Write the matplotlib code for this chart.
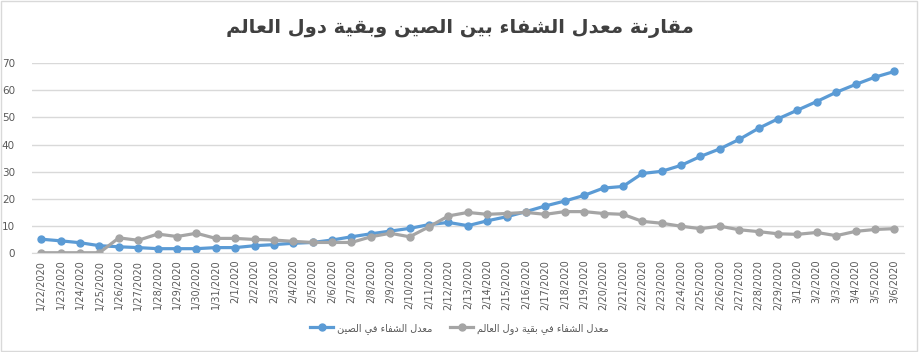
import matplotlib
matplotlib.use('Agg')
import matplotlib.pyplot as plt
from matplotlib.patches import Rectangle

dates = ['1/22/2020', '1/23/2020', '1/24/2020', '1/25/2020', '1/26/2020', '1/27/2020',
         '1/28/2020', '1/29/2020', '1/30/2020', '1/31/2020', '2/1/2020', '2/2/2020',
         '2/3/2020', '2/4/2020', '2/5/2020', '2/6/2020', '2/7/2020', '2/8/2020',
         '2/9/2020', '2/10/2020', '2/11/2020', '2/12/2020', '2/13/2020', '2/14/2020',
         '2/15/2020', '2/16/2020', '2/17/2020', '2/18/2020', '2/19/2020', '2/20/2020',
         '2/21/2020', '2/22/2020', '2/23/2020', '2/24/2020', '2/25/2020', '2/26/2020',
         '2/27/2020', '2/28/2020', '2/29/2020', '3/1/2020', '3/2/2020', '3/3/2020',
         '3/4/2020', '3/5/2020', '3/6/2020']

china = [5.0, 4.4, 3.7, 2.6, 2.2, 1.9, 1.5, 1.5, 1.5, 1.9, 1.9, 2.6, 3.0, 3.5, 3.8,
         4.7, 5.9, 7.0, 8.0, 9.0, 10.4, 11.2, 10.0, 11.8, 13.3, 15.2, 17.3, 19.1, 21.2, 23.9,
         24.5, 29.3, 30.1, 32.3, 35.6, 38.4, 41.9, 46.0, 49.5, 52.7, 55.9, 59.3, 62.2, 64.9, 67.0]

world = [0, 0, 0, 0, 5.5, 4.6, 6.9, 6.0, 7.2, 5.3, 5.3, 4.9, 4.7, 4.2, 3.8,
         3.8, 3.8, 5.9, 7.2, 5.9, 9.6, 13.6, 14.9, 14.2, 14.5, 14.9, 14.2, 15.2, 15.2, 14.5,
         14.2, 11.6, 10.9, 9.8, 8.9, 9.8, 8.5, 7.8, 7.0, 6.8, 7.5, 6.3, 7.9, 8.6, 8.9]

title = 'مقارنة معدل الشفاء بين الصين وبقية دول العالم'
label_china = 'معدل الشفاء في الصين'
label_world = 'معدل الشفاء في بقية دول العالم'

# arabic presentation forms: (isolated, final, initial, medial); None = no joining on that side
FORMS = {
    'ء': (0xFE80, None, None, None),
    'ا': (0xFE8D, 0xFE8E, None, None),
    'ب': (0xFE8F, 0xFE90, 0xFE91, 0xFE92),
    'ة': (0xFE93, 0xFE94, None, None),
    'د': (0xFEA9, 0xFEAA, None, None),
    'ر': (0xFEAD, 0xFEAE, None, None),
    'ش': (0xFEB5, 0xFEB6, 0xFEB7, 0xFEB8),
    'ص': (0xFEB9, 0xFEBA, 0xFEBB, 0xFEBC),
    'ع': (0xFEC9, 0xFECA, 0xFECB, 0xFECC),
    'ف': (0xFED1, 0xFED2, 0xFED3, 0xFED4),
    'ق': (0xFED5, 0xFED6, 0xFED7, 0xFED8),
    'ل': (0xFEDD, 0xFEDE, 0xFEDF, 0xFEE0),
    'م': (0xFEE1, 0xFEE2, 0xFEE3, 0xFEE4),
    'ن': (0xFEE5, 0xFEE6, 0xFEE7, 0xFEE8),
    'و': (0xFEED, 0xFEEE, None, None),
    'ي': (0xFEF1, 0xFEF2, 0xFEF3, 0xFEF4),
}


def shape(s):
    out = []
    for i, c in enumerate(s):
        if c not in FORMS:
            out.append(c)
            continue
        prev = s[i - 1] if i > 0 else ''
        nxt = s[i + 1] if i + 1 < len(s) else ''
        f = FORMS[c]
        join_prev = prev in FORMS and FORMS[prev][2] is not None and f[1] is not None
        join_next = nxt in FORMS and f[2] is not None and FORMS[nxt][1] is not None
        if join_prev and join_next:
            code = f[3]
        elif join_prev:
            code = f[1]
        elif join_next:
            code = f[2]
        else:
            code = f[0]
        out.append(chr(code))
    return ''.join(out)[::-1]


plt.rcParams['font.family'] = ['DejaVu Sans']

fig = plt.figure(figsize=(9.19, 3.52), dpi=100)
ax = fig.add_axes([0.0344, 0.282, 0.9493, 0.538])

x = list(range(len(dates)))
ax.plot(x, china, color='#5B9BD5', lw=2.3, marker='o', ms=5, label=shape(label_china))
ax.plot(x, world, color='#A5A5A5', lw=2.3, marker='o', ms=5, label=shape(label_world))

ax.set_xlim(-0.5, len(dates) - 0.5)
ax.set_ylim(0, 70)
ax.set_yticks(range(0, 71, 10))
ax.set_xticks(x)
ax.set_xticklabels(dates, rotation=90, fontsize=7, color='#595959')
ax.tick_params(axis='y', labelsize=7.5, labelcolor='#595959', length=0, pad=12)
ax.tick_params(axis='x', length=0, pad=5)
ax.grid(axis='y', color='#D9D9D9', lw=1)
ax.set_axisbelow(True)
for side in ['top', 'right', 'left']:
    ax.spines[side].set_visible(False)
ax.spines['bottom'].set_color('#D9D9D9')

fig.text(0.5, 0.918, shape(title), ha='center', va='center', fontsize=14,
         fontweight='bold', color='#404040')

fig.legend(loc='center', bbox_to_anchor=(0.5, 0.068), ncol=2, frameon=False,
           fontsize=7, labelcolor='#595959', handlelength=2.4, handletextpad=0.4,
           columnspacing=1.8)

fig.add_artist(Rectangle((0.001, 0.002), 0.997, 0.996, transform=fig.transFigure,
                         fill=False, edgecolor='#D9D9D9', lw=1))

fig.savefig('out.png', dpi=100)
